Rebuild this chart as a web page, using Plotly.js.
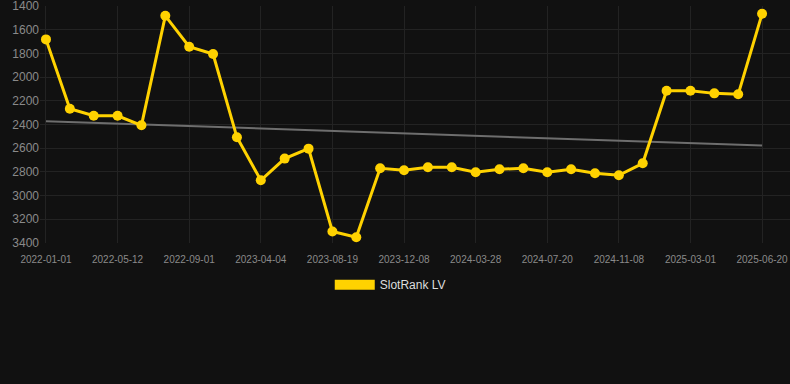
<!DOCTYPE html>
<html>
<head>
<meta charset="utf-8">
<script src="https://cdn.plot.ly/plotly-3.0.1.min.js"></script>
<style>html,body{margin:0;padding:0;background:#111111;}#chart{width:790px;height:384px;}</style>
</head>
<body>
<div id="chart"></div>
<script>
// Rank values (one per observation, evenly spaced)
const ranks = [1681, 2267, 2326, 2326, 2407, 1482, 1743, 1805, 2508, 2871, 2688, 2604, 3304, 3352, 2770, 2787, 2761, 2761, 2804, 2778, 2770, 2804, 2778, 2812, 2829, 2728, 2115, 2115, 2137, 2145, 1465];
// Date tick labels (every third observation)
const tickLabels = ['2022-01-01', '2022-05-12', '2022-09-01', '2023-04-04', '2023-08-19', '2023-12-08', '2024-03-28', '2024-07-20', '2024-11-08', '2025-03-01', '2025-06-20'];
const yTicks = [1400, 1600, 1800, 2000, 2200, 2400, 2600, 2800, 3000, 3200, 3400];
const seriesName = 'SlotRank LV';

const idx = ranks.map((_, i) => i);
const tickVals = tickLabels.map((_, i) => i * 3);

// least-squares trend line
const n = ranks.length;
const mx = idx.reduce((a, b) => a + b, 0) / n;
const my = ranks.reduce((a, b) => a + b, 0) / n;
let sxy = 0, sxx = 0;
for (let i = 0; i < n; i++) { sxy += (idx[i] - mx) * (ranks[i] - my); sxx += (idx[i] - mx) ** 2; }
const slope = sxy / sxx, icpt = my - slope * mx;
const trendX = [idx[0], idx[n - 1]];
const trendY = trendX.map(x => icpt + slope * x);

const gold = '#FFD200';
const traces = [
  { x: trendX, y: trendY, mode: 'lines', line: { color: '#6e6e6e', width: 2 }, showlegend: false, hoverinfo: 'skip' },
  { x: idx, y: ranks, mode: 'lines+markers', line: { color: gold, width: 3 }, marker: { color: gold, size: 10 }, showlegend: false, name: seriesName },
  { x: [null], y: [null], mode: 'lines', line: { color: gold, width: 11 }, name: seriesName, showlegend: true }
];

const layout = {
  width: 790, height: 384,
  paper_bgcolor: '#111111', plot_bgcolor: '#111111',
  margin: { l: 40, r: 0, t: 6, b: 141 },
  font: { family: 'Liberation Sans, Arial, sans-serif', color: '#888' },
  xaxis: {
    type: 'linear', range: [-0.25, 31.17],
    tickvals: tickVals, ticktext: tickLabels,
    tickfont: { size: 10, color: '#8a8a8a' },
    ticklabelstandoff: 9,
    gridcolor: '#232323', gridwidth: 1, zeroline: false, showline: false, ticks: ''
  },
  yaxis: {
    range: [3401, 1399], tickvals: yTicks,
    tickfont: { size: 12, color: '#8a8a8a' },
    ticklabeloverflow: 'allow',
    gridcolor: '#232323', gridwidth: 1, zeroline: false, showline: false, ticks: ''
  },
  showlegend: true,
  legend: {
    orientation: 'h', x: 0.467, xanchor: 'center', y: -0.115, yanchor: 'top',
    font: { size: 12, color: '#dddddd' }, itemwidth: 40, bgcolor: 'rgba(0,0,0,0)'
  }
};

Plotly.newPlot('chart', traces, layout, { displayModeBar: false, staticPlot: true });
</script>
</body>
</html>
